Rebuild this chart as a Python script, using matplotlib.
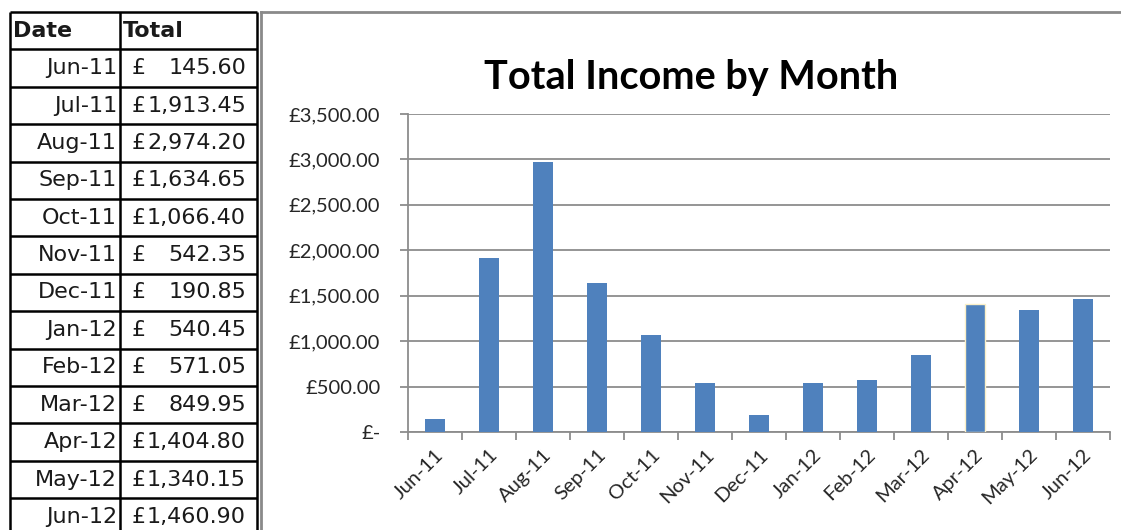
# Total income by month - table + bar chart

import matplotlib.pyplot as plt
from matplotlib.ticker import FuncFormatter, FixedLocator

# Data
months = ['Jun-11', 'Jul-11', 'Aug-11', 'Sep-11', 'Oct-11', 'Nov-11', 'Dec-11',
          'Jan-12', 'Feb-12', 'Mar-12', 'Apr-12', 'May-12', 'Jun-12']
totals = [145.60, 1913.45, 2974.20, 1634.65, 1066.40, 542.35, 190.85,
          540.45, 571.05, 849.95, 1404.80, 1340.15, 1460.90]

W, H = 1121, 530
fig = plt.figure(figsize=(W / 100, H / 100), dpi=100)

# Background axes in pixel coordinates for the sheet table and chart frame
bg = fig.add_axes([0, 0, 1, 1])
bg.set_xlim(0, W)
bg.set_ylim(H, 0)
bg.axis('off')

row_h = 37.4
top = 12
x_left, x_mid, x_right = 10, 120, 257
n_rows = len(months) + 1
bottom = top + n_rows * row_h

for i in range(n_rows + 1):
    y = top + i * row_h
    bg.plot([x_left, x_right], [y, y], color='black', lw=1.8, solid_capstyle='butt')
for x in (x_left, x_mid, x_right):
    bg.plot([x, x], [top, bottom], color='black', lw=1.8, solid_capstyle='butt')

tfont = dict(family='DejaVu Sans', fontsize=16, color='#1a1a1a', va='center')
bg.text(x_left + 3, top + row_h / 2, 'Date', fontweight='bold', **tfont)
bg.text(x_mid + 3, top + row_h / 2, 'Total', fontweight='bold', **tfont)
for i, (m, v) in enumerate(zip(months, totals)):
    yc = top + (i + 1.5) * row_h
    bg.text(x_mid - 3, yc, m, ha='right', **tfont)
    bg.text(x_mid + 12, yc, '£', ha='left', **tfont)
    bg.text(x_right - 11, yc, f'{v:,.2f}', ha='right', **tfont)

# chart frame
bg.plot([261, W], [12, 12], color='#8a8a8a', lw=2)
bg.plot([261, 261], [12, H], color='#8a8a8a', lw=2)

# Chart
ax = fig.add_axes([408 / W, 98 / H, (1110 - 408) / W, (432 - 114) / H])
x = list(range(len(months)))
bars = ax.bar(x, totals, width=0.38, color='#4F81BD', zorder=3)
bars[10].set_edgecolor('#fbf0c8')
bars[10].set_linewidth(1.0)

ax.set_xlim(-0.5, len(months) - 0.5)
ax.set_ylim(0, 3500)
ax.set_yticks(range(0, 3501, 500))
ax.yaxis.set_major_formatter(FuncFormatter(
    lambda v, p: '£-' if v == 0 else f'£{v:,.2f}'))
ax.grid(axis='y', color='#8c8c8c', lw=1.3, zorder=0)

ax.set_xticks(x)
ax.set_xticklabels(months, rotation=45, ha='right', va='top',
                   rotation_mode='anchor')
ax.xaxis.set_minor_locator(FixedLocator([i - 0.5 for i in range(len(months) + 1)]))
ax.tick_params(axis='x', which='major', length=0, pad=10)
ax.tick_params(axis='x', which='minor', length=6, width=1.3, color='#8c8c8c')
ax.tick_params(axis='y', length=6, width=1.3, color='#8c8c8c', pad=14)

for lab in ax.get_xticklabels() + ax.get_yticklabels():
    lab.set_family('Lato')
    lab.set_fontsize(14.5)
    lab.set_color('#262626')

for s in ('top', 'right'):
    ax.spines[s].set_visible(False)
for s in ('left', 'bottom'):
    ax.spines[s].set_color('#8c8c8c')
    ax.spines[s].set_linewidth(1.3)

fig.text(691 / W, (H - 78) / H, 'Total Income by Month', family='Lato',
         fontweight='bold', fontsize=28.5, ha='center', va='center', color='black')

fig.savefig('out.png', dpi=100)
